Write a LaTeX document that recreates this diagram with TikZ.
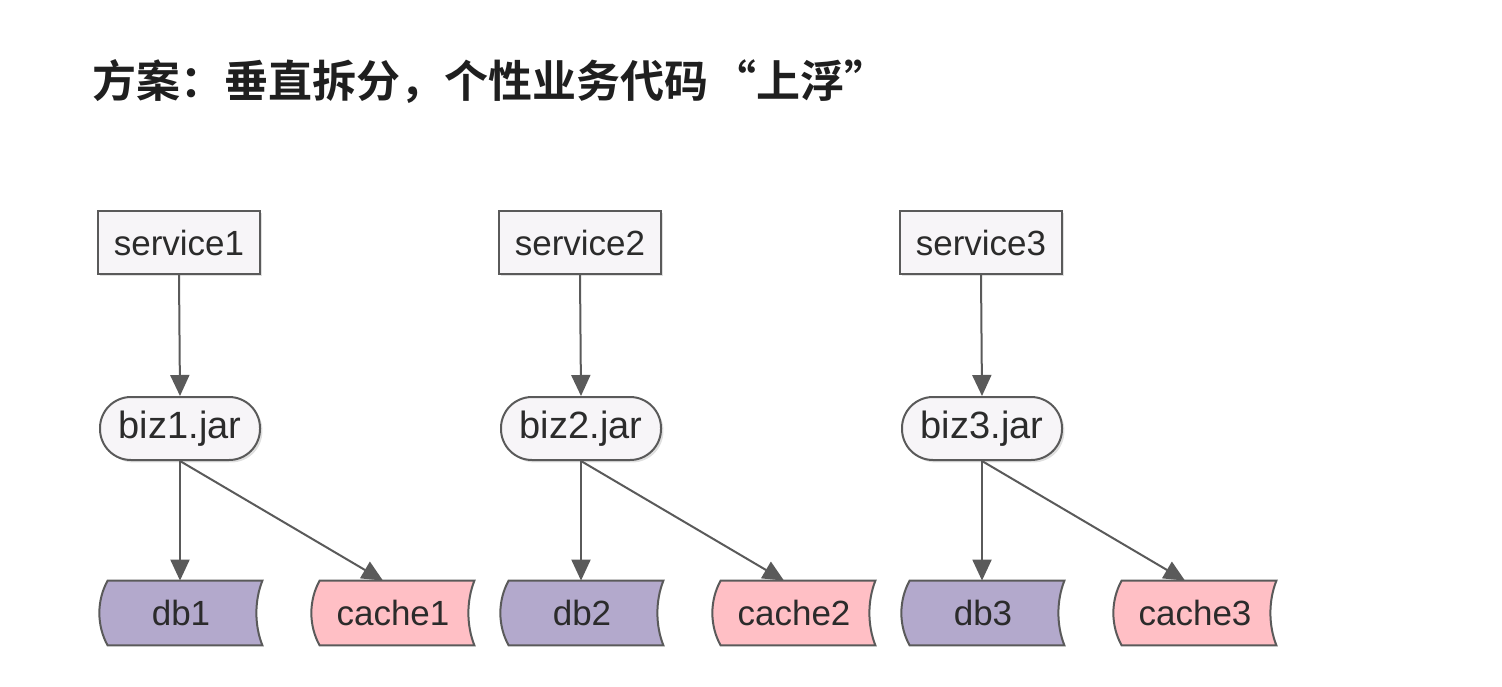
\documentclass[tikz,border=0pt]{standalone}
\usepackage{fontspec}
\setmainfont{Liberation Sans}
\newfontfamily\cjk{Noto Sans CJK SC}[BoldFont={Noto Sans CJK SC Bold}]
\usetikzlibrary{arrows.meta,calc,backgrounds,shadows}
\definecolor{edge}{HTML}{5A5A5A}
\definecolor{boxfill}{HTML}{F7F5F8}
\definecolor{dbfill}{HTML}{B3A9CC}
\definecolor{cachefill}{HTML}{FFBFC5}
\definecolor{txt}{HTML}{2B2B2B}
\tikzset{
  lbl/.style={font=\fontsize{17.5pt}{20pt}\selectfont, text=txt, inner sep=0pt},
  svcbox/.style={lbl, draw=edge, line width=1pt, fill=boxfill, minimum width=81pt, minimum height=31.5pt,
     drop shadow={shadow xshift=1.2pt, shadow yshift=-1.2pt, opacity=0.25, fill=gray}},
  jarbox/.style={lbl, font=\fontsize{19pt}{21pt}\selectfont, draw=edge, line width=1pt, fill=boxfill, rounded corners=15.5pt, minimum width=80pt, minimum height=31.5pt,
     drop shadow={shadow xshift=1.2pt, shadow yshift=-1.2pt, opacity=0.25, fill=gray}},
  storebox/.style={lbl, minimum width=81pt, minimum height=32pt},
  conn/.style={draw=edge, line width=1pt, -{Triangle[length=10.5pt,width=9.5pt]}},
}
\newcommand{\storedshape}[2]{%
  \begin{scope}[on background layer]
    \fill[gray, opacity=0.25, shift={(1.2pt,-1.2pt)}]
      ($(#1.north west)+(4pt,0)$) -- (#1.north east)
      .. controls ($(#1.north east)+(-4pt,-10pt)$) and ($(#1.south east)+(-4pt,10pt)$) .. (#1.south east)
      -- ($(#1.south west)+(4pt,0)$)
      .. controls ($(#1.south west)+(-1.5pt,10pt)$) and ($(#1.north west)+(-1.5pt,-10pt)$) .. cycle;
    \draw[draw=edge, line width=1pt, fill=#2]
      ($(#1.north west)+(4pt,0)$) -- (#1.north east)
      .. controls ($(#1.north east)+(-4pt,-10pt)$) and ($(#1.south east)+(-4pt,10pt)$) .. (#1.south east)
      -- ($(#1.south west)+(4pt,0)$)
      .. controls ($(#1.south west)+(-1.5pt,10pt)$) and ($(#1.north west)+(-1.5pt,-10pt)$) .. cycle;
  \end{scope}}
\begin{document}
\begin{tikzpicture}[x=0.5pt,y=-0.5pt]
\useasboundingbox (0,0) rectangle (1502,686);
\node[anchor=base west, inner sep=0pt, font=\cjk\bfseries\fontsize{22pt}{24pt}\selectfont, text=black!88] (title) at (92,97) {方案：垂直拆分，个性业务代码\hspace{0.1em}“上浮”};

\foreach \i/\dx in {1/0,2/401,3/802}{
  \node[svcbox] (s\i) at (179+\dx,242.5) {service\i};
  \node[jarbox] (b\i) at (180+\dx,428.5) {biz\i.jar};
  \node[storebox] (d\i) at (181+\dx,613) {db\i};
  \node[storebox] (c\i) at (393+\dx,613) {cache\i};
  \storedshape{d\i}{dbfill}
  \storedshape{c\i}{cachefill}
  \draw[conn] (s\i.south) -- (b\i.north);
  \draw[conn] (b\i.south) -- (b\i.south |- d\i.north);
  \draw[conn] (b\i.south) -- ([xshift=-5pt]c\i.north);
}
\end{tikzpicture}
\end{document}
